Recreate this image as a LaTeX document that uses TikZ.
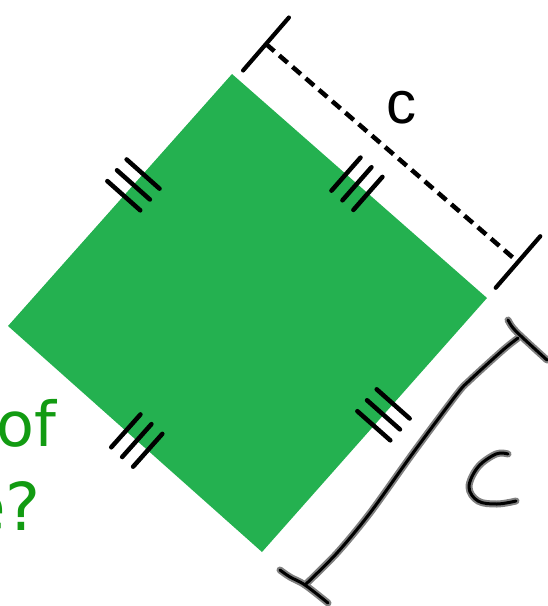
\documentclass[tikz,border=0pt]{standalone}
\usepackage{fontspec}
\setmainfont{DejaVu Sans}
\newfontfamily\labelfont{Liberation Sans}
\usetikzlibrary{calc}
\definecolor{sqgreen}{RGB}{36,177,80}
\definecolor{txtgreen}{RGB}{18,155,18}
\definecolor{outlinegray}{RGB}{128,128,128}
\tikzset{
  tickmark/.style={line width=4.5pt, line cap=round, black},
  dimline/.style={line width=4.5pt, black, dash pattern=on 11pt off 6.5pt},
  dimend/.style={line width=4.2pt, line cap=round, black},
  handgray/.style={line width=7pt, line cap=round, line join=round, outlinegray},
  handblack/.style={line width=3pt, line cap=round, line join=round, black},
}
\begin{document}
\begin{tikzpicture}[x=1pt,y=-1pt]
\useasboundingbox (0,0) rectangle (548,606);
% square vertices
\coordinate (T) at (232,74);
\coordinate (R) at (487,298);
\coordinate (B) at (262,552);
\coordinate (L) at (8,326);
\fill[sqgreen] (T) -- (R) -- (B) -- (L) -- cycle;
% tick marks
\foreach \f in {0.447,0.49,0.533} {
  \coordinate (c) at ($(T)!\f!(R)$);
  \draw[tickmark] ($(c)!22pt!90:(R)$) -- ($(c)!22pt!-90:(R)$);
}
\foreach \f in {0.517,0.56,0.603} {
  \coordinate (c) at ($(L)!\f!(T)$);
  \draw[tickmark] ($(c)!22pt!90:(T)$) -- ($(c)!22pt!-90:(T)$);
}
\foreach \f in {0.417,0.46,0.503} {
  \coordinate (c) at ($(R)!\f!(B)$);
  \draw[tickmark] ($(c)!22pt!90:(B)$) -- ($(c)!22pt!-90:(B)$);
}
\foreach \f in {0.464,0.507,0.55} {
  \coordinate (c) at ($(L)!\f!(B)$);
  \draw[tickmark] ($(c)!22pt!90:(B)$) -- ($(c)!22pt!-90:(B)$);
}
% dimension line
\coordinate (d1) at (266,44);
\coordinate (d2) at (518,262);
\draw[dimline] (d1) -- (d2);
\draw[dimend] ($(d1)!35pt!90:(d2)$) -- ($(d1)!35pt!-90:(d2)$);
\draw[dimend] ($(d2)!34pt!90:(d1)$) -- ($(d2)!34pt!-90:(d1)$);
\node[font=\labelfont\fontsize{60}{60}\selectfont, inner sep=0pt] (clabel) at (401,108) {c};
% hand-drawn bracket
\foreach \s in {handgray,handblack} {
  \draw[\s] plot[smooth, tension=0.6] coordinates {(508,320) (513,328) (523,338) (547,360)};
  \draw[\s] plot[smooth, tension=0.5] coordinates {(518,338) (503,350) (470,380) (457,394) (413,453) (370,513) (337,553) (305,585)};
  \draw[\s] plot[smooth, tension=0.6] coordinates {(280,570) (290,577) (305,585) (328,603)};
  \draw[\s] plot[smooth, tension=0.6] coordinates {(508,454) (496,454) (478,467) (469,487) (478,501) (497,504) (516,501)};
}
% green text (cut off at left)
\node[anchor=base west, inner sep=0pt, text=txtgreen, font=\fontsize{62}{62}\selectfont] (of) at (-4,446) {of};
\node[anchor=base east, inner sep=0pt, text=txtgreen, font=\fontsize{66}{66}\selectfont] (eq) at (41,530) {e?};
\end{tikzpicture}
\end{document}
